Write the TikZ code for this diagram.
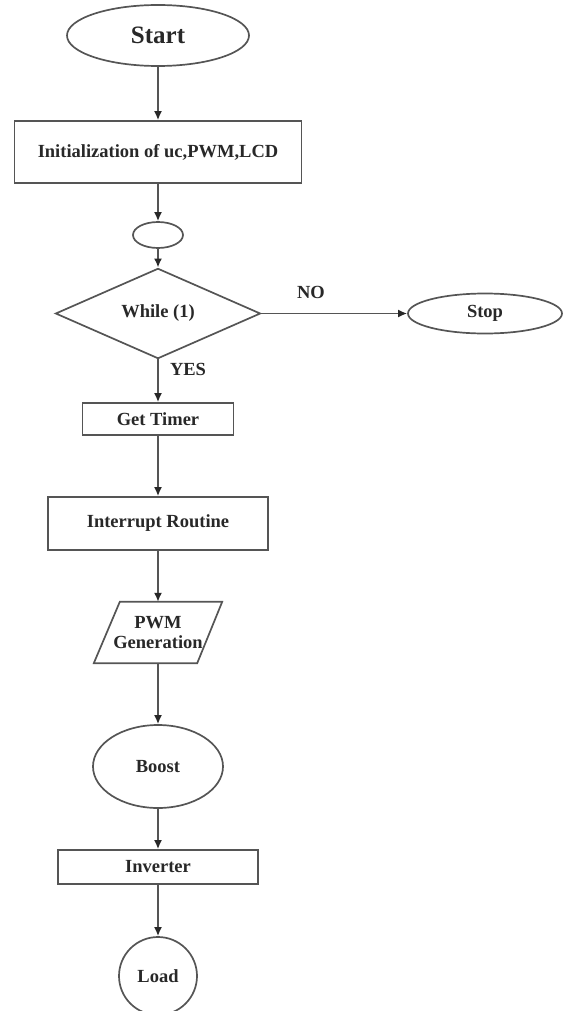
\documentclass[tikz,border=0pt]{standalone}
\usepackage{fontspec}
\setmainfont{Liberation Serif}
\usetikzlibrary{shapes.geometric,arrows.meta}
\definecolor{ln}{HTML}{555555}
\definecolor{tx}{HTML}{282828}
\begin{document}
\begin{tikzpicture}[x=1pt,y=-1pt,
  every node/.style={font=\bfseries\fontsize{18.5}{21}\selectfont, text=tx, inner sep=0pt},
  box/.style={draw=ln, line width=1.7pt, rectangle},
  oval/.style={draw=ln, line width=1.7pt, ellipse},
  arr/.style={draw=ln, line width=1.7pt, -{Latex[length=9pt,width=8pt,color=tx]}},
  lbl/.style={font=\bfseries\fontsize{18.5}{21}\selectfont}
]
\useasboundingbox (0,0) rectangle (581,1011);
\node[oval, minimum width=182, minimum height=61, font=\bfseries\fontsize{25}{28}\selectfont] (start) at (158,35.5) {Start};
\node[box, minimum width=287, minimum height=62] (init) at (158,152) {Initialization of uc,PWM,LCD};
\node[oval, minimum width=50, minimum height=26] (join) at (158,235) {};
\node[draw=ln, line width=1.7pt, diamond, minimum width=205, minimum height=73] (while) at (158,313.5) {While (1)};
\node[oval, minimum width=154, minimum height=40] (stop) at (485,313.5) {Stop};
\node[box, minimum width=151, minimum height=32] (timer) at (158,419) {Get Timer};
\node[box, minimum width=220, minimum height=53] (intr) at (158,523.5) {Interrupt Routine};
\node[minimum width=128, minimum height=61, align=center] (pwm) at (158,632.5) {PWM\\[-1pt]Generation};
\draw[ln, line width=1.7pt] (pwm.south west) -- ([xshift=26]pwm.north west) -- (pwm.north east) -- ([xshift=-25]pwm.south east) -- cycle;
\node[oval, minimum width=130, minimum height=83] (boost) at (158,766.5) {Boost};
\node[box, minimum width=200, minimum height=34] (inv) at (158,867) {Inverter};
\node[draw=ln, line width=1.7pt, circle, minimum size=78] (load) at (158,976) {Load};
\node[lbl] (no) at (311,292) {NO};
\node[lbl] (yes) at (188,369) {YES};
\draw[arr] (start.south) -- (init.north);
\draw[arr] (init.south) -- (join.north);
\draw[arr] (join.south) -- (while.north);
\draw[arr] (while.east) -- (stop.west);
\draw[arr] (while.south) -- (timer.north);
\draw[arr] (timer.south) -- (intr.north);
\draw[arr] (intr.south) -- (pwm.north);
\draw[arr] (pwm.south) -- (boost.north);
\draw[arr] (boost.south) -- (inv.north);
\draw[arr] (inv.south) -- (load.north);
\end{tikzpicture}
\end{document}
